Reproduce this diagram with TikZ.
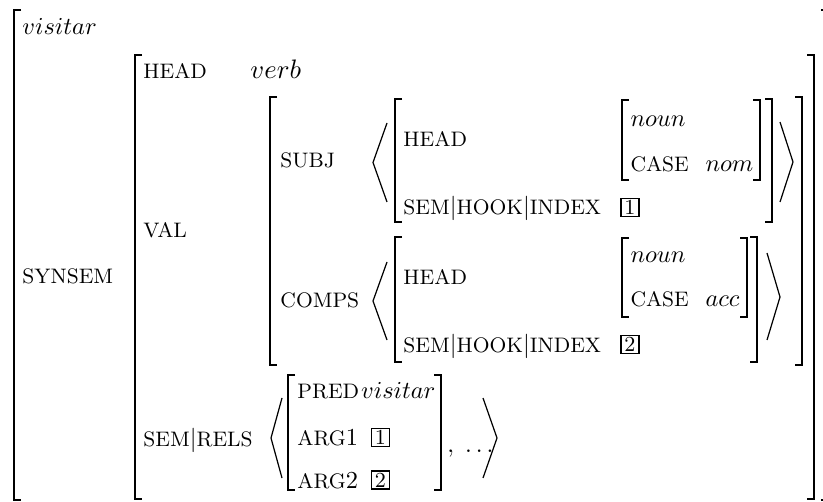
\documentclass[tikz,border=0pt]{standalone}
\newcommand\ft[1]{{\fontsize{8.6}{10}\selectfont #1}}
\begin{document}
\begin{tikzpicture}[x=0.41pt,y=-0.41pt,
  every node/.style={inner sep=0pt,anchor=base west},
  brk/.style={line width=0.7pt},
  ang/.style={line width=0.5pt},
  tagbox/.style={draw,line width=0.45pt,anchor=center,minimum width=18*0.41pt,minimum height=18*0.41pt,inner sep=0pt,font=\fontsize{8.8}{10}\selectfont}]
\useasboundingbox (0,0) rectangle (823,502);
\newcommand\LB[3]{\draw[brk] (#1+7,#2) -- (#1,#2) -- (#1,#3) -- (#1+7,#3);}
\newcommand\RB[3]{\draw[brk] (#1-7,#2) -- (#1,#2) -- (#1,#3) -- (#1-7,#3);}
% brackets
\LB{14}{10}{500}\RB{828}{10}{500}
\LB{135}{55}{499}\RB{814}{55}{499}
\LB{270}{97}{365}\RB{802}{97}{365}
\LB{395}{99}{222}\RB{772}{99}{222}
\LB{622}{100}{180}\RB{760}{100}{180}
\LB{395}{237}{362}\RB{757}{237}{362}
\LB{622}{238}{317}\RB{747}{238}{317}
\LB{288}{375}{490}\RB{441}{375}{490}
% angles
\draw[ang] (387,123) -- (373,162.5) -- (387,202);
\draw[ang] (780,122) -- (793,162) -- (780,202);
\draw[ang] (387,262) -- (373,301) -- (387,340);
\draw[ang] (767,253) -- (780,297) -- (767,340);
\draw[ang] (282,398) -- (271,438) -- (282,478);
\draw[ang] (483,398) -- (497,438) -- (483,478);
% texts
\node (t0) at (22,35) {$visitar$};
\node (synsem) at (22,284) {\ft{SYNSEM}};
\node (head1) at (143,79) {\ft{HEAD}};
\node[font=\fontsize{11}{13}\selectfont] (verb) at (250,79) {$verb$};
\node (val) at (143,238) {\ft{VAL}};
\node (semrels) at (143,446) {\ft{SEM}$|$\ft{RELS}};
\node (subj) at (280,168) {\ft{SUBJ}};
\node (comps) at (280,308) {\ft{COMPS}};
\node (head2) at (403,147) {\ft{HEAD}};
\node (shi1) at (403,215) {\ft{SEM}$|$\ft{HOOK}$|$\ft{INDEX}};
\node[tagbox] (b1) at (630,207.5) {1};
\node (noun1) at (630,127) {$noun$};
\node (case1) at (630,172) {\ft{CASE}};
\node (nom) at (705,172) {$nom$};
\node (head3) at (403,285) {\ft{HEAD}};
\node (shi2) at (403,353) {\ft{SEM}$|$\ft{HOOK}$|$\ft{INDEX}};
\node[tagbox] (b2) at (630,344.5) {2};
\node (noun2) at (630,263) {$noun$};
\node (case2) at (630,307) {\ft{CASE}};
\node (acc) at (705,307) {$acc$};
\node (pred) at (297,399) {\ft{PRED}};
\node[anchor=base east,font=\fontsize{10.4}{12}\selectfont] (vis2) at (436,399) {$visitar$};
\node (arg1) at (297,445) {\ft{ARG}1};
\node[tagbox] (b3) at (380.5,437.5) {1};
\node (arg2) at (297,488) {\ft{ARG}2};
\node[tagbox] (b4) at (380.5,480) {2};
\node (dots) at (447,452) {$,\;\ldots$};
\end{tikzpicture}
\end{document}
